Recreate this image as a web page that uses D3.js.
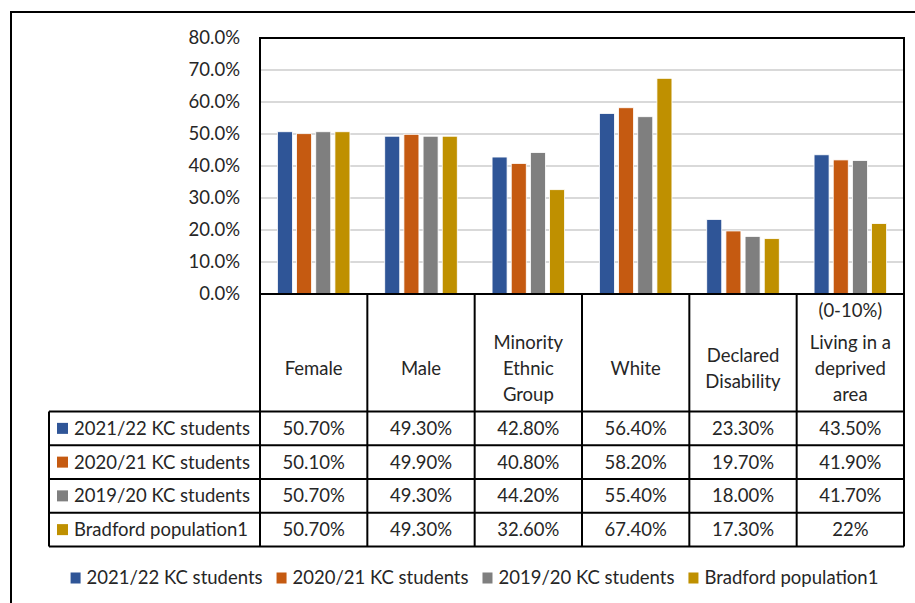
<!DOCTYPE html>
<html>
<head>
<meta charset="utf-8">
<script src="https://cdnjs.cloudflare.com/ajax/libs/d3/7.8.5/d3.min.js"></script>
<style>
  body { margin: 0; background: #fff; }
  svg { display: block; font-family: Lato, "Open Sans", sans-serif; }
  text { fill: #262626; }
</style>
</head>
<body>
<div class="vizHolder"></div>
<script>
// categories (header lines as shown in the data table)
var categories = ["Female", "Male", "Minority Ethnic Group", "White", "Declared Disability", "Living in a deprived area"];
var categoryLines = [
    ["Female"],
    ["Male"],
    ["Minority", "Ethnic", "Group"],
    ["White"],
    ["Declared", "Disability"],
    ["(0-10%)", "Living in a", "deprived", "area"]
];

var seriesNames = ["2021/22 KC students", "2020/21 KC students", "2019/20 KC students", "Bradford population1"];
var kc2122 = [50.7, 49.3, 42.8, 56.4, 23.3, 43.5];
var kc2021 = [50.1, 49.9, 40.8, 58.2, 19.7, 41.9];
var kc1920 = [50.7, 49.3, 44.2, 55.4, 18.0, 41.7];
var bradford = [50.7, 49.3, 32.6, 67.4, 17.3, 22];
var seriesValues = [kc2122, kc2021, kc1920, bradford];
// values that the table shows without decimals
var wholeLabels = {"3-5": true};

var yTicks = [0, 10, 20, 30, 40, 50, 60, 70, 80];

var colors = ["#2F5597", "#C55A11", "#7F7F7F", "#BF9000"];

var width = 915, height = 603;
var plot = {left: 260, right: 904, top: 38, bottom: 294};
var tableBottom = 546.5;
var headerBottom = 411.5;
var fontSize = 18.5;

var svg = d3.select(".vizHolder")
            .append("svg")
            .attr("width", width)
            .attr("height", height);

// outer chart frame (cropped at right/bottom)
svg.append("rect")
   .attr("x", 11).attr("y", 12)
   .attr("width", 950).attr("height", 650)
   .attr("fill", "none")
   .attr("stroke", "#000")
   .attr("stroke-width", 2);

var xScale = d3.scaleBand()
               .domain(categories)
               .range([plot.left, plot.right]);
var xSeries = d3.scaleBand()
                .domain(seriesNames)
                .range([17.4, xScale.bandwidth() - 17.4])
                .paddingInner(0.217);
var yScale = d3.scaleLinear()
               .domain([0, 80])
               .range([plot.bottom, plot.top]);

// gridlines
svg.append("g")
   .selectAll("line")
   .data(yTicks.filter(function(d) { return d > 0 && d < 80; }))
   .enter().append("line")
   .attr("x1", plot.left).attr("x2", plot.right)
   .attr("y1", yScale).attr("y2", yScale)
   .attr("stroke", "#D9D9D9")
   .attr("stroke-width", 2);

// y-axis labels
var yAxis = d3.axisLeft(yScale)
              .tickValues(yTicks)
              .tickSize(0)
              .tickPadding(20)
              .tickFormat(function(d) { return d3.format(".1f")(d) + "%"; });
var yAxisG = svg.append("g")
                .attr("transform", "translate(" + plot.left + ",0)")
                .call(yAxis);
yAxisG.select(".domain").remove();
yAxisG.selectAll("text")
      .attr("font-family", "Lato, sans-serif")
      .attr("font-size", fontSize)
      .attr("fill", "#262626");

// bars
seriesNames.forEach(function(name, s) {
    svg.append("g")
       .selectAll("rect")
       .data(seriesValues[s])
       .enter().append("rect")
       .attr("x", function(d, i) { return xScale(categories[i]) + xSeries(name); })
       .attr("width", xSeries.bandwidth())
       .attr("y", function(d) { return yScale(d); })
       .attr("height", function(d) { return plot.bottom - yScale(d); })
       .attr("fill", colors[s])
       .attr("stroke", "#fff")
       .attr("stroke-width", 0.8);
});

// plot frame
svg.append("rect")
   .attr("x", plot.left).attr("y", plot.top)
   .attr("width", plot.right - plot.left)
   .attr("height", plot.bottom - plot.top)
   .attr("fill", "none")
   .attr("stroke", "#000")
   .attr("stroke-width", 2);

// data table
var rowScale = d3.scaleBand()
                 .domain(seriesNames)
                 .range([headerBottom, tableBottom]);
var tableLeft = 49;
var table = svg.append("g")
               .attr("stroke", "#000")
               .attr("stroke-width", 2);

// vertical lines of the table
var vx = categories.map(function(c) { return xScale(c); }).concat([plot.right]);
table.selectAll(".vline")
     .data(vx)
     .enter().append("line")
     .attr("x1", function(d) { return d; }).attr("x2", function(d) { return d; })
     .attr("y1", plot.bottom).attr("y2", tableBottom);
table.append("line")
     .attr("x1", tableLeft).attr("x2", tableLeft)
     .attr("y1", headerBottom).attr("y2", tableBottom);

// horizontal lines of the table
var hy = seriesNames.map(function(n) { return rowScale(n); }).concat([tableBottom]);
table.selectAll(".hline")
     .data(hy)
     .enter().append("line")
     .attr("x1", tableLeft).attr("x2", plot.right)
     .attr("y1", function(d) { return d; }).attr("y2", function(d) { return d; });

// header labels
var headerMid = 369, lineH = 26, lowest = 395;
categories.forEach(function(c, i) {
    var lines = categoryLines[i];
    var n = lines.length;
    var shift = Math.max(0, headerMid + (n - 1) / 2 * lineH - lowest);
    svg.append("g")
       .selectAll("text")
       .data(lines)
       .enter().append("text")
       .attr("x", xScale(c) + xScale.bandwidth() / 2)
       .attr("y", function(d, j) {
           var y = headerMid + (j - (n - 1) / 2) * lineH - shift;
           if (n === 4 && j === 0) y -= 6;
           return y;
       })
       .attr("dy", "0.35em")
       .attr("text-anchor", "middle")
       .attr("font-size", fontSize)
       .text(function(d) { return d; });
});

// row labels with legend keys
seriesNames.forEach(function(name, s) {
    var cy = rowScale(name) + rowScale.bandwidth() / 2;
    svg.append("rect")
       .attr("x", 57).attr("y", cy - 5.5)
       .attr("width", 11).attr("height", 11)
       .attr("fill", colors[s]);
    svg.append("text")
       .attr("x", 74).attr("y", cy)
       .attr("dy", "0.35em")
       .attr("font-size", fontSize)
       .text(name);
    svg.append("g")
       .selectAll("text")
       .data(seriesValues[s])
       .enter().append("text")
       .attr("x", function(d, i) { return xScale(categories[i]) + xScale.bandwidth() / 2; })
       .attr("y", cy)
       .attr("dy", "0.35em")
       .attr("text-anchor", "middle")
       .attr("font-size", fontSize)
       .text(function(d, i) {
           if (wholeLabels[s + "-" + i]) return d3.format("d")(d) + "%";
           return d3.format(".2f")(d) + "%";
       });
});

// bottom legend
var legend = svg.append("g");
var lx = 0;
seriesNames.forEach(function(name, s) {
    var item = legend.append("g").attr("transform", "translate(" + lx + ",0)");
    item.append("rect")
        .attr("x", 0).attr("y", -5.5)
        .attr("width", 10).attr("height", 11)
        .attr("fill", colors[s]);
    var t = item.append("text")
        .attr("x", 16).attr("y", 0)
        .attr("dy", "0.35em")
        .attr("font-size", fontSize)
        .text(name);
    lx += 16 + t.node().getComputedTextLength() + 14;
});
var legendW = lx - 14;
legend.attr("transform", "translate(" + (474.5 - legendW / 2) + ",578)");
</script>
</body>
</html>
